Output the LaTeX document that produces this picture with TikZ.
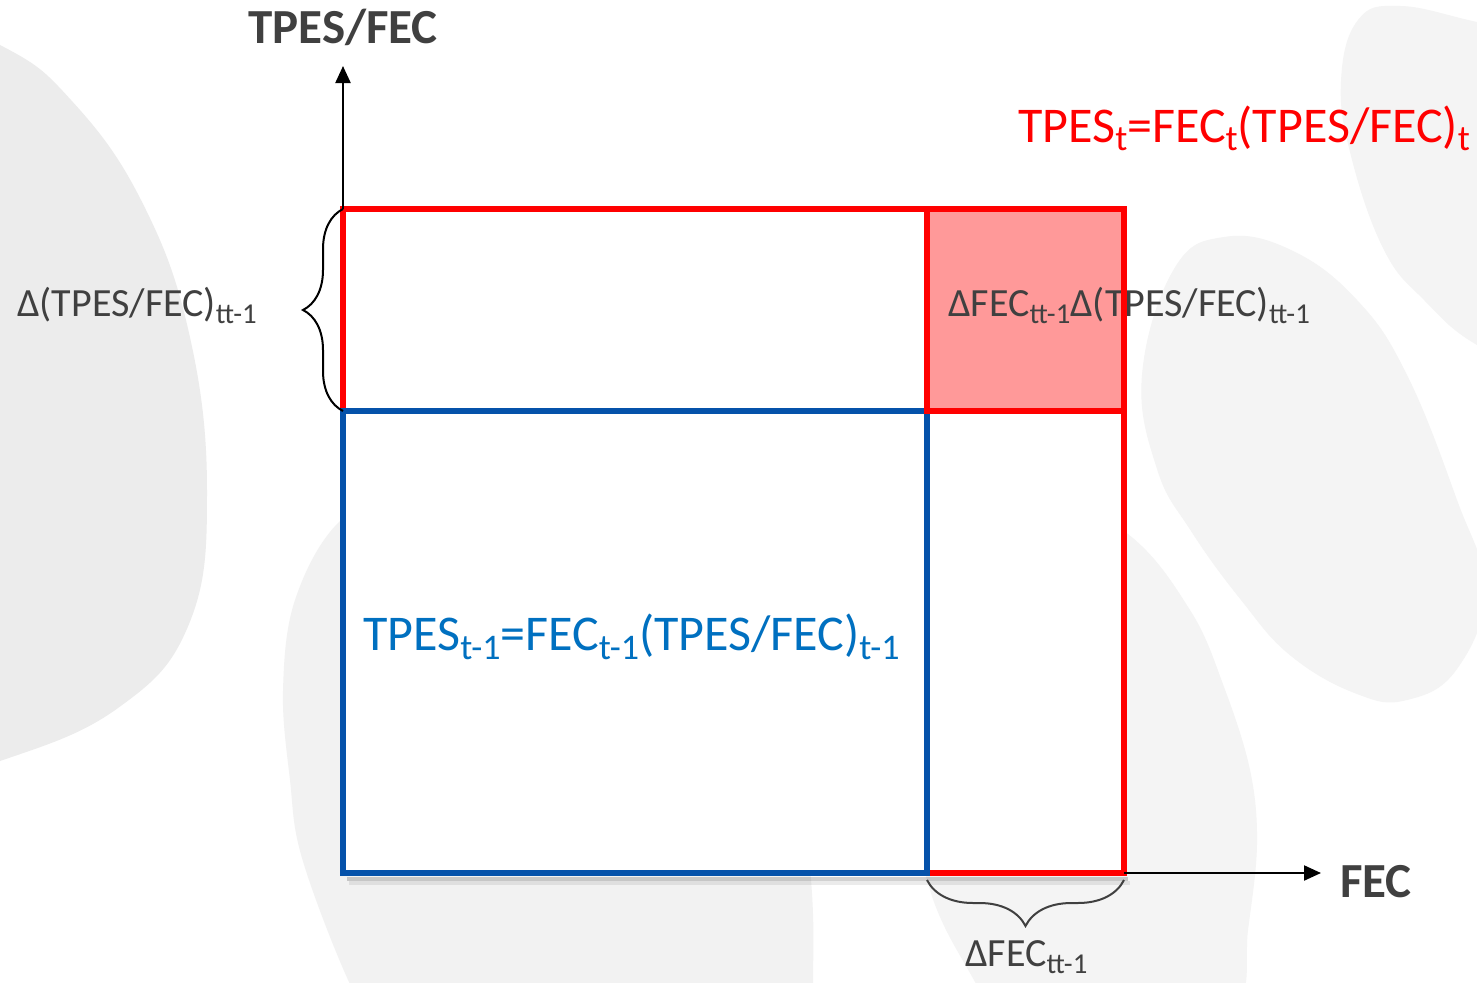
\documentclass[tikz,border=0pt]{standalone}
\usepackage{fontspec}
\setmainfont{Carlito}
\usetikzlibrary{arrows.meta,decorations.pathreplacing}
\definecolor{txtgray}{RGB}{64,64,64}
\definecolor{lred}{RGB}{255,0,0}
\definecolor{lblue}{RGB}{5,82,170}
\definecolor{tblue}{RGB}{0,112,192}
\definecolor{boxpink}{RGB}{255,153,153}
\definecolor{blobA}{RGB}{236,236,236}
\definecolor{blobB}{RGB}{244,244,244}
\definecolor{blobC}{RGB}{242,242,242}
\newcommand\lsub[1]{\raisebox{-0.18em}{\scalebox{0.72}{#1}}}
\begin{document}
\begin{tikzpicture}[x=1pt,y=-1pt,
  lbl/.style={inner sep=0pt, anchor=base west, font=\fontsize{40}{46}\selectfont, text=txtgray},
  formula/.style={inner sep=0pt, anchor=base west, font=\fontsize{50}{58}\selectfont},
  axlbl/.style={inner sep=0pt, font=\fontsize{49}{56}\selectfont\bfseries, text=txtgray},
  redline/.style={draw=lred, line width=5.5pt},
  blueline/.style={draw=lblue, line width=5.5pt},
  axis/.style={draw=black, line width=2.2pt, -{Triangle[length=17pt,width=15pt]}},
  bracel/.style={draw=black, line width=2pt, decorate, decoration={brace, amplitude=40pt}},
  braceb/.style={draw=txtgray, line width=2pt, decorate, decoration={brace, amplitude=46pt}},
  blob/.style={draw=none}]
\useasboundingbox (0,0) rectangle (1477,982);
\fill[white] (0,0) rectangle (1477,982);
% background blobs
\begin{scope}
\clip (0,0) rectangle (1477,982);
\fill[blobA] plot[smooth cycle, tension=0.7] coordinates {(-120,0) (0,45) (71,100) (141,200) (189,333) (207,491) (189,624) (118,708) (0,761) (-120,790)};
\fill[blobB] plot[smooth cycle, tension=0.7] coordinates {(1560,40) (1477,22) (1400,6) (1358,20) (1341,81) (1351,156) (1384,250) (1424,300) (1477,345) (1560,380)};
\fill[blobB] plot[smooth cycle, tension=0.7] coordinates {(1224,237) (1291,250) (1357,300) (1407,375) (1457,500) (1485,590) (1457,669) (1407,700) (1357,694) (1291,656) (1241,600) (1191,531) (1157,469) (1142,375) (1174,269)};
\fill[blobB] plot[smooth cycle, tension=0.6] coordinates {(1000,470) (1124,531) (1190,610) (1224,687) (1250,770) (1257,844) (1248,930) (1236,1010) (1150,1070) (1010,1040) (975,982) (930,890) (905,750) (920,560)};
\fill[blobC] plot[smooth cycle, tension=0.6] coordinates {(420,480) (340,521) (295,600) (283,691) (290,780) (302,858) (349,982) (390,1050) (600,1070) (811,1040) (813,982) (811,880) (790,700) (700,540) (560,480)};
\end{scope}
% key points
\coordinate (TL) at (343,209);
\coordinate (TR) at (1124,209);
\coordinate (BL) at (343,873);
\coordinate (BR) at (1124,873);
\coordinate (ML) at (343,411);
\coordinate (MM) at (927,411);
\coordinate (MT) at (927,209);
\coordinate (MB) at (927,873);
\coordinate (MR) at (1124,411);
\coordinate (ytip) at (343,66);
\coordinate (xtip) at (1321,873);
\coordinate (bbl) at (927,880);
\coordinate (bbr) at (1124,880);
% rectangles
\fill[white] (TL) rectangle (BR);
\draw[black, opacity=0.18, line width=4pt] (347,879) -- (1128,879);
\draw[black, opacity=0.08, line width=4pt] (349,883) -- (1130,883);
\draw[redline] (TL) rectangle (BR);
\draw[blueline] (ML) rectangle (MB);
\fill[boxpink] (MT) rectangle (MR);
\node[lbl] (dbox) at (948,316) {ΔFEC\lsub{tt-1}Δ(TPES/FEC)\lsub{tt-1}};
\draw[redline] (MT) rectangle (MR);
% axes
\draw[axis] (TL) -- (ytip);
\draw[axis] (BR) -- (xtip);
\node[axlbl, anchor=base] (ylab) at (343,44) {TPES/FEC};
\node[axlbl, anchor=base west] (xlab) at (1340,897) {FEC};
% braces
\draw[bracel] (ML) -- (TL);
\draw[braceb] (bbr) -- (bbl);
% labels
\node[lbl] (dlab) at (17,316) {Δ(TPES/FEC)\lsub{tt-1}};
\node[lbl] (dfec) at (965,966) {ΔFEC\lsub{tt-1}};
\node[formula, text=lred] (ftop) at (1018,142) {TPES\lsub{t}=FEC\lsub{t}(TPES/FEC)\lsub{t}};
\node[formula, text=tblue] (fbot) at (363,650) {TPES\lsub{t-1}=FEC\lsub{t-1}(TPES/FEC)\lsub{t-1}};
\end{tikzpicture}
\end{document}
